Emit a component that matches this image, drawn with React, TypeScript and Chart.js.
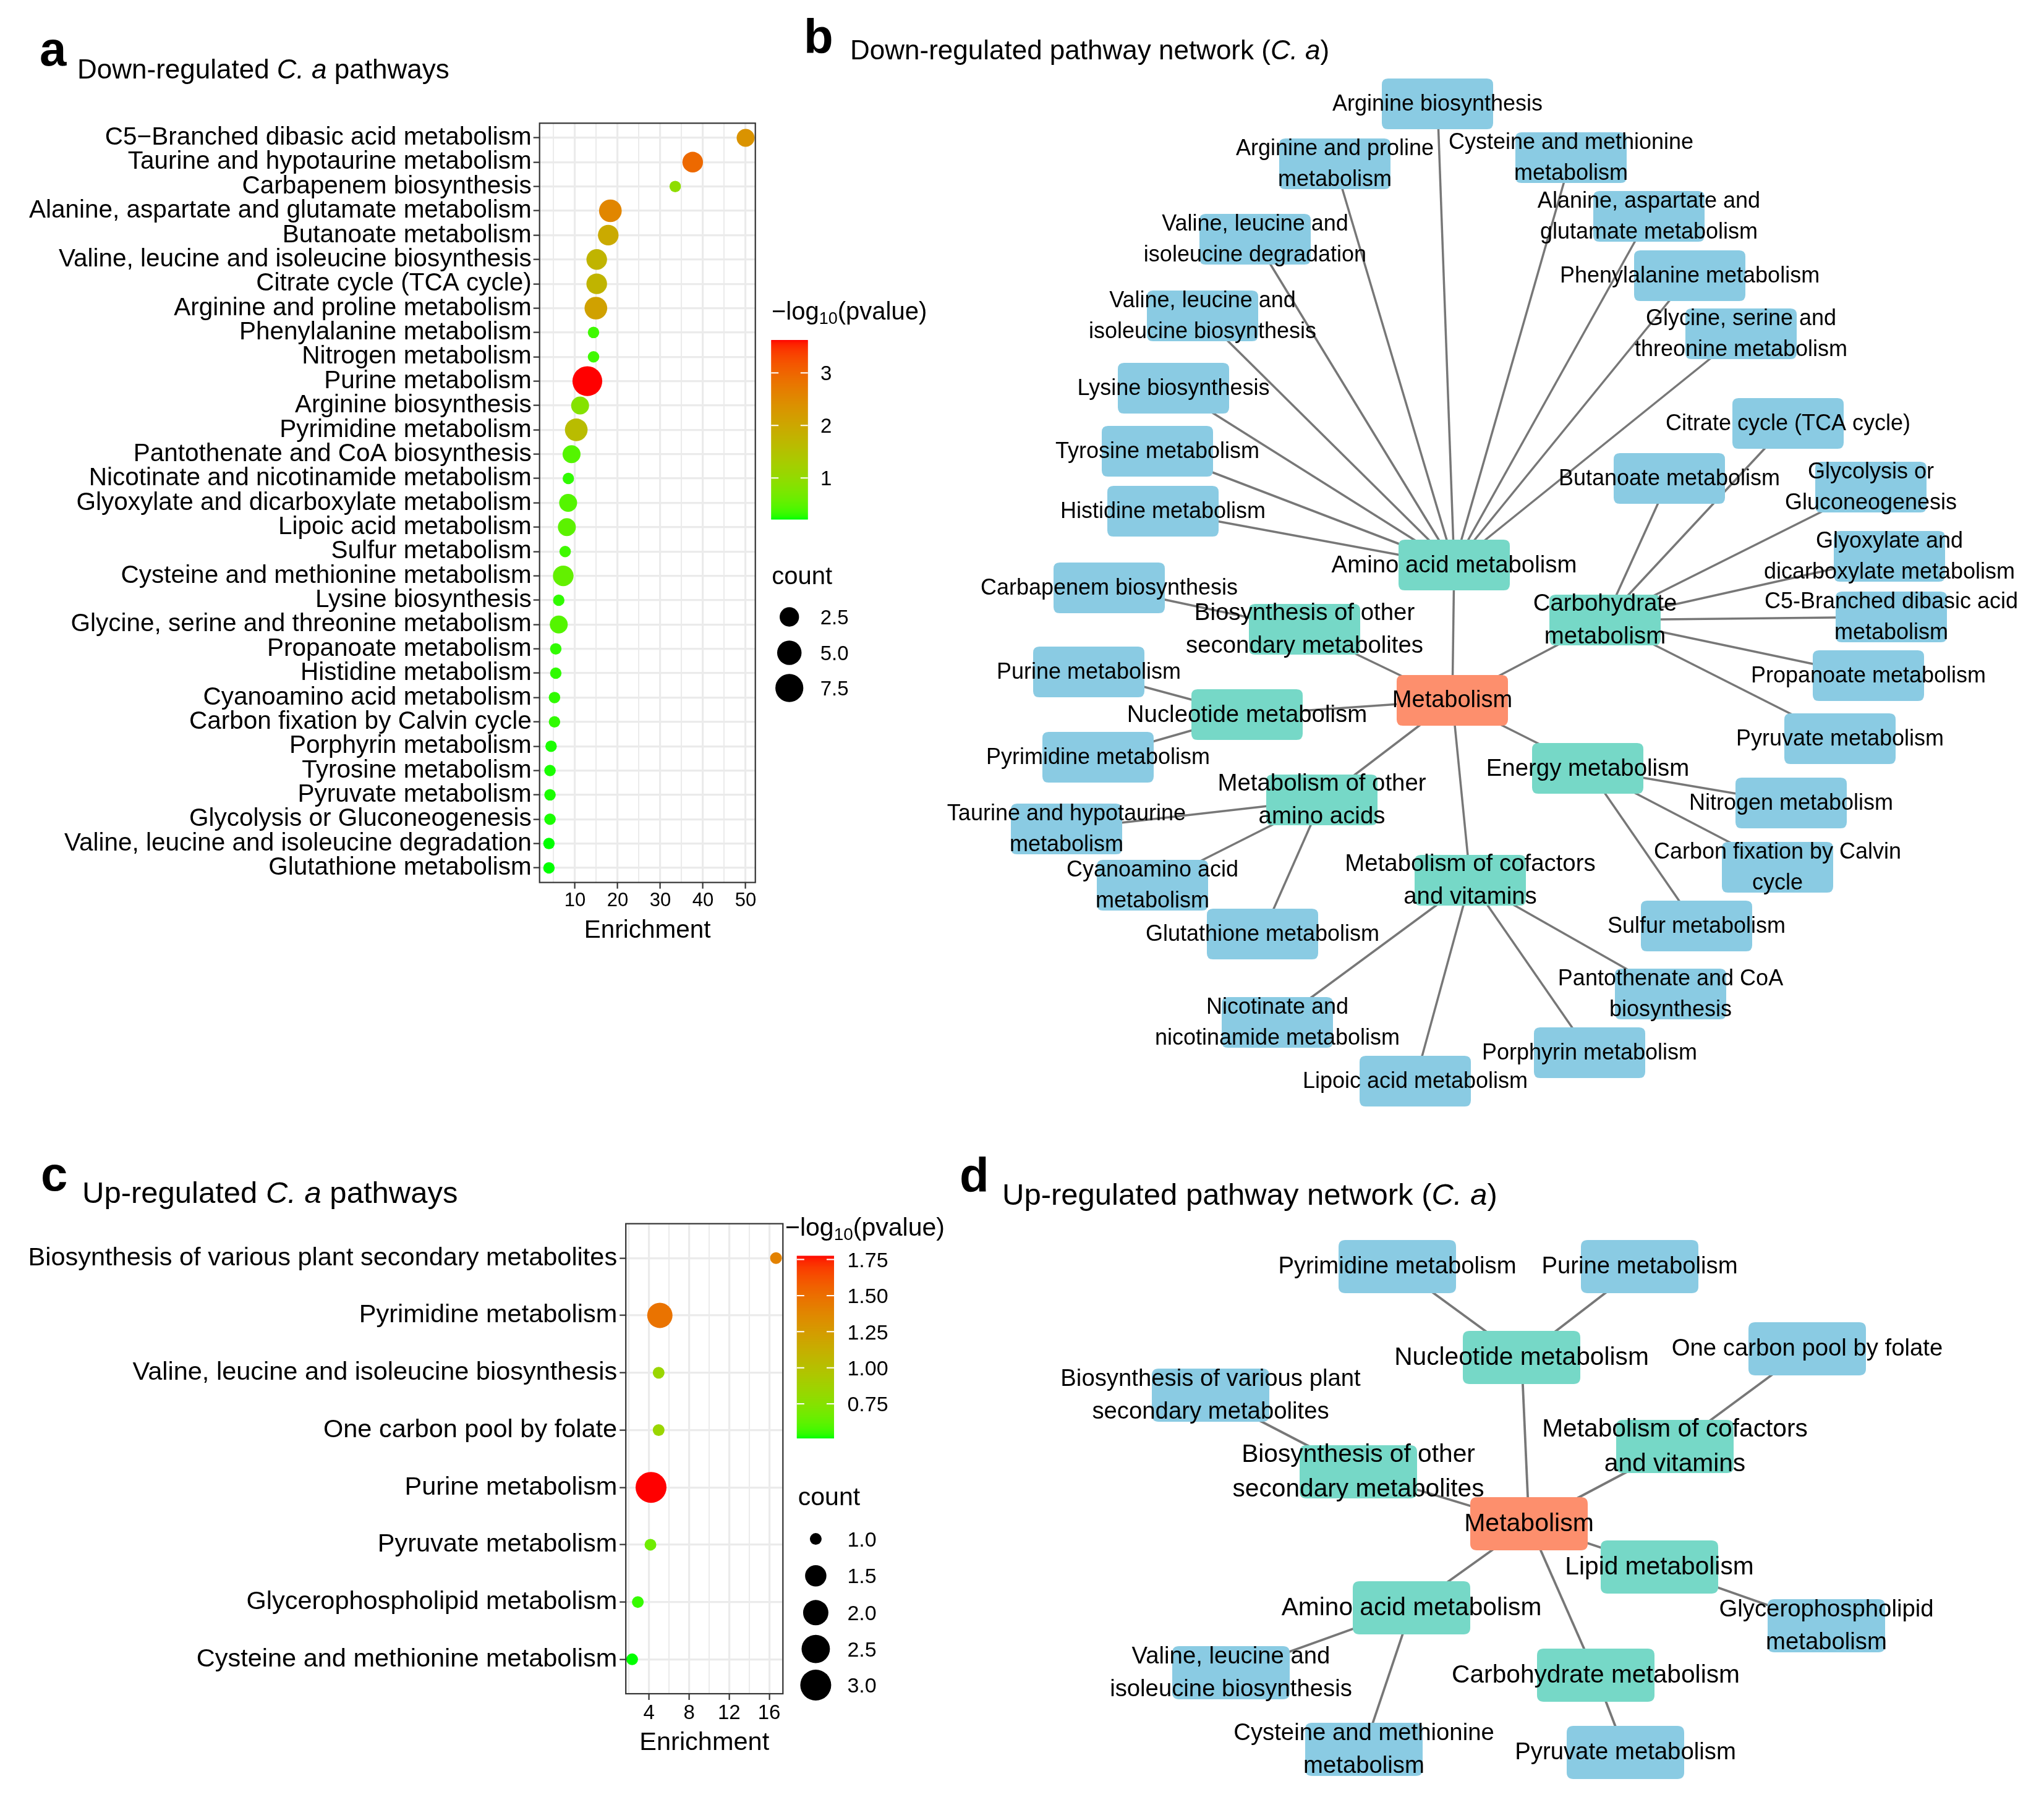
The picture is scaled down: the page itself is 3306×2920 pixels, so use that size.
import React, { useEffect, useRef } from "react";
import { Chart, registerables } from "chart.js";

Chart.register(...registerables);

const FONT = '"Liberation Sans", Arial, Helvetica, sans-serif';

// ---------------- Panel a : down-regulated pathways ----------------
const downPathways = [
  "C5\u2212Branched dibasic acid metabolism",
  "Taurine and hypotaurine metabolism",
  "Carbapenem biosynthesis",
  "Alanine, aspartate and glutamate metabolism",
  "Butanoate metabolism",
  "Valine, leucine and isoleucine biosynthesis",
  "Citrate cycle (TCA cycle)",
  "Arginine and proline metabolism",
  "Phenylalanine metabolism",
  "Nitrogen metabolism",
  "Purine metabolism",
  "Arginine biosynthesis",
  "Pyrimidine metabolism",
  "Pantothenate and CoA biosynthesis",
  "Nicotinate and nicotinamide metabolism",
  "Glyoxylate and dicarboxylate metabolism",
  "Lipoic acid metabolism",
  "Sulfur metabolism",
  "Cysteine and methionine metabolism",
  "Lysine biosynthesis",
  "Glycine, serine and threonine metabolism",
  "Propanoate metabolism",
  "Histidine metabolism",
  "Cyanoamino acid metabolism",
  "Carbon fixation by Calvin cycle",
  "Porphyrin metabolism",
  "Tyrosine metabolism",
  "Pyruvate metabolism",
  "Glycolysis or Gluconeogenesis",
  "Valine, leucine and isoleucine degradation",
  "Glutathione metabolism",
];
const downEnrichment = [
  50.0, 37.6, 33.5, 18.3, 17.8, 15.1, 15.1, 14.9, 14.35, 14.35, 12.9, 11.2, 10.3, 9.2, 8.45, 8.4,
  8.1, 7.7, 7.25, 6.2, 6.2, 5.5, 5.5, 5.2, 5.2, 4.4, 4.15, 4.15, 4.15, 3.9, 3.9,
];
const downCount = [2, 3, 1, 4, 3, 3, 3, 4, 1, 1, 9, 2, 4, 2, 1, 2, 2, 1, 3, 1, 2, 1, 1, 1, 1, 1, 1, 1, 1, 1, 1];
const downLogP = [
  2.35, 2.95, 0.95, 2.55, 1.95, 1.75, 1.75, 2.1, 0.35, 0.35, 3.627, 0.85, 1.6, 0.45, 0.3, 0.45, 0.5,
  0.35, 0.55, 0.3, 0.45, 0.3, 0.3, 0.3, 0.3, 0.25, 0.25, 0.25, 0.25, 0.224, 0.224,
];
const downEnrichMajor = [10, 20, 30, 40, 50];
const downEnrichMinor = [5, 15, 25, 35, 45];
const downColorTicks = [1, 2, 3];
const downCountTicks = [2.5, 5.0, 7.5];

// ---------------- Panel c : up-regulated pathways ----------------
const upPathways = [
  "Biosynthesis of various plant secondary metabolites",
  "Pyrimidine metabolism",
  "Valine, leucine and isoleucine biosynthesis",
  "One carbon pool by folate",
  "Purine metabolism",
  "Pyruvate metabolism",
  "Glycerophospholipid metabolism",
  "Cysteine and methionine metabolism",
];
const upEnrichment = [16.68, 5.08, 4.96, 4.96, 4.2, 4.14, 2.88, 2.31];
const upCount = [1, 2, 1, 1, 3, 1, 1, 1];
const upLogP = [1.4, 1.48, 0.84, 0.84, 1.776, 0.67, 0.55, 0.515];
const upEnrichMajor = [4, 8, 12, 16];
const upEnrichMinor = [2, 6, 10, 14];
const upColorTicks = [0.75, 1.0, 1.25, 1.5, 1.75];
const upCountTicks = [1.0, 1.5, 2.0, 2.5, 3.0];

// ---------------- Panel b : down-regulated network (layout units) ----------------
const downRoot = "Metabolism";
const downCategories = [
  "Amino acid metabolism",
  "Biosynthesis of other\nsecondary metabolites",
  "Carbohydrate\nmetabolism",
  "Nucleotide metabolism",
  "Metabolism of other\namino acids",
  "Energy metabolism",
  "Metabolism of cofactors\nand vitamins",
];
const downCategoryX = [0.03, -2.39, 2.47, -3.32, -2.11, 2.19, 0.29];
const downCategoryY = [2.19, 1.15, 1.3, -0.23, -1.61, -1.1, -2.91];
const downLeaves = [
  "Arginine biosynthesis",
  "Arginine and proline\nmetabolism",
  "Cysteine and methionine\nmetabolism",
  "Alanine, aspartate and\nglutamate metabolism",
  "Valine, leucine and\nisoleucine degradation",
  "Phenylalanine metabolism",
  "Valine, leucine and\nisoleucine biosynthesis",
  "Glycine, serine and\nthreonine metabolism",
  "Lysine biosynthesis",
  "Tyrosine metabolism",
  "Histidine metabolism",
  "Carbapenem biosynthesis",
  "Citrate cycle (TCA cycle)",
  "Butanoate metabolism",
  "Glycolysis or\nGluconeogenesis",
  "Glyoxylate and\ndicarboxylate metabolism",
  "C5-Branched dibasic acid\nmetabolism",
  "Propanoate metabolism",
  "Pyruvate metabolism",
  "Purine metabolism",
  "Pyrimidine metabolism",
  "Taurine and hypotaurine\nmetabolism",
  "Cyanoamino acid\nmetabolism",
  "Glutathione metabolism",
  "Nitrogen metabolism",
  "Carbon fixation by Calvin\ncycle",
  "Sulfur metabolism",
  "Pantothenate and CoA\nbiosynthesis",
  "Nicotinate and\nnicotinamide metabolism",
  "Porphyrin metabolism",
  "Lipoic acid metabolism",
];
const downLeafParent = [0, 0, 0, 0, 0, 0, 0, 0, 0, 0, 0, 1, 2, 2, 2, 2, 2, 2, 2, 3, 3, 4, 4, 4, 5, 5, 5, 6, 6, 6, 6];
const downLeafX = [
  -0.24, -1.9, 1.92, 3.18, -3.19, 3.84, -4.04, 4.67, -4.51, -4.77, -4.68, -5.55, 5.43, 3.51, 6.77, 7.07,
  7.1, 6.73, 6.27, -5.88, -5.73, -6.24, -4.85, -3.07, 5.48, 5.26, 3.95, 3.53, -2.83, 2.22, -0.6,
];
const downLeafY = [
  9.65, 8.68, 8.78, 7.83, 7.46, 6.87, 6.22, 5.93, 5.05, 4.03, 3.06, 1.82, 4.48, 3.59, 3.45, 2.33, 1.35,
  0.4, -0.62, 0.46, -0.92, -2.08, -2.99, -3.78, -1.66, -2.7, -3.65, -4.75, -5.21, -5.7, -6.16,
];

// ---------------- Panel d : up-regulated network (layout units) ----------------
const upRoot = "Metabolism";
const upCategories = [
  "Nucleotide metabolism",
  "Metabolism of cofactors\nand vitamins",
  "Biosynthesis of other\nsecondary metabolites",
  "Lipid metabolism",
  "Amino acid metabolism",
  "Carbohydrate metabolism",
];
const upCategoryX = [-0.12, 2.36, -2.76, 2.11, -1.9, 1.08];
const upCategoryY = [2.69, 1.25, 0.84, -0.7, -1.36, -2.45];
const upLeaves = [
  "Pyrimidine metabolism",
  "Purine metabolism",
  "One carbon pool by folate",
  "Biosynthesis of various plant\nsecondary metabolites",
  "Glycerophospholipid\nmetabolism",
  "Valine, leucine and\nisoleucine biosynthesis",
  "Cysteine and methionine\nmetabolism",
  "Pyruvate metabolism",
];
const upLeafParent = [0, 0, 1, 2, 3, 4, 4, 5];
const upLeafX = [-2.13, 1.79, 4.5, -5.15, 4.81, -4.82, -2.67, 1.56];
const upLeafY = [4.16, 4.16, 2.83, 2.08, -1.65, -2.41, -3.65, -3.7];

// ---------------- colour helpers (Lab interpolation like ggplot2) ----------------
function toLin(c: number) {
  c /= 255;
  return c <= 0.04045 ? c / 12.92 : Math.pow((c + 0.055) / 1.055, 2.4);
}
function rgb2lab(r: number, g: number, b: number) {
  const R = toLin(r), G = toLin(g), B = toLin(b);
  const X = (0.4124564 * R + 0.3575761 * G + 0.1804375 * B) / 0.95047;
  const Y = 0.2126729 * R + 0.7151522 * G + 0.072175 * B;
  const Z = (0.0193339 * R + 0.119192 * G + 0.9503041 * B) / 1.08883;
  const f = (t: number) => (t > 0.008856 ? Math.cbrt(t) : 7.787 * t + 16 / 116);
  return [116 * f(Y) - 16, 500 * (f(X) - f(Y)), 200 * (f(Y) - f(Z))];
}
function lab2rgb(L: number, a: number, b: number) {
  const fy = (L + 16) / 116, fx = a / 500 + fy, fz = fy - b / 200;
  const inv = (t: number) => (t * t * t > 0.008856 ? t * t * t : (t - 16 / 116) / 7.787);
  const X = 0.95047 * inv(fx), Y = inv(fy), Z = 1.08883 * inv(fz);
  const lr = 3.2404542 * X - 1.5371385 * Y - 0.4985314 * Z;
  const lg = -0.969266 * X + 1.8760108 * Y + 0.041556 * Z;
  const lb = 0.0556434 * X - 0.2040259 * Y + 1.0572252 * Z;
  const g = (c: number) => {
    const v = c <= 0.0031308 ? 12.92 * c : 1.055 * Math.pow(c, 1 / 2.4) - 0.055;
    return Math.round(Math.max(0, Math.min(1, v)) * 255);
  };
  return `rgb(${g(lr)},${g(lg)},${g(lb)})`;
}
const LOW_LAB = rgb2lab(0, 255, 0);
const HIGH_LAB = rgb2lab(255, 0, 0);
function gradient(v: number, lo: number, hi: number) {
  const t = Math.max(0, Math.min(1, (v - lo) / (hi - lo)));
  return lab2rgb(
    LOW_LAB[0] + t * (HIGH_LAB[0] - LOW_LAB[0]),
    LOW_LAB[1] + t * (HIGH_LAB[1] - LOW_LAB[1]),
    LOW_LAB[2] + t * (HIGH_LAB[2] - LOW_LAB[2])
  );
}

function drawParts(ctx: CanvasRenderingContext2D, x: number, y: number, parts: [string, boolean][], size: number) {
  let cx = x;
  ctx.textAlign = "left";
  ctx.textBaseline = "alphabetic";
  for (const [t, it] of parts) {
    ctx.font = `${it ? "italic " : ""}${size}px ${FONT}`;
    ctx.fillText(t, cx, y);
    cx += ctx.measureText(t).width;
  }
}

type Header = {
  letter: string; lx: number; lbase: number; lfont: number;
  parts: [string, boolean][]; tx: number; tbase: number; tfont: number;
};
function drawHeader(ctx: CanvasRenderingContext2D, h: Header) {
  ctx.save();
  ctx.fillStyle = "#000";
  ctx.textAlign = "left";
  ctx.textBaseline = "alphabetic";
  ctx.font = `bold ${h.lfont}px ${FONT}`;
  ctx.fillText(h.letter, h.lx, h.lbase);
  drawParts(ctx, h.tx, h.tbase, h.parts, h.tfont);
  ctx.restore();
}

// ---------------- dot plot ----------------
type DotSpec = {
  cats: string[]; enrich: number[]; count: number[]; logp: number[];
  xMin: number; xMax: number; majors: number[]; minors: number[];
  dMin: number; dMax: number;
  colorTicks: number[]; colorFmt: (v: number) => string;
  countTicks: number[];
  W: number; H: number; area: { l: number; t: number; r: number; b: number };
  yFont: number; xFont: number; xPad: number; yPad: number;
  axisTitleFont: number; axisTitleBase: number;
  cb: { titleX: number; titleBase: number; titleFont: number; subFont: number; x: number; y: number; w: number; h: number; labelX: number; labelFont: number };
  cl: { titleX: number; titleBase: number; titleFont: number; cx: number; cy: number[]; labelX: number; labelFont: number };
  header: Header;
};

function makeDotChart(canvas: HTMLCanvasElement, s: DotSpec) {
  const lo = Math.min(...s.logp), hi = Math.max(...s.logp);
  const cMin = Math.min(...s.count), cMax = Math.max(...s.count);
  const diam = (c: number) => s.dMin + (s.dMax - s.dMin) * Math.sqrt(Math.max(0, (c - cMin) / (cMax - cMin)));
  const n = s.cats.length;
  const majorSet = new Set(s.majors);
  const xTicks = [...s.minors, ...s.majors].sort((a, b) => a - b);
  const GRID = "#EBEBEB";
  const DARK = "#333333";

  const plugin = {
    id: "dotDecor",
    afterDraw(chart: any) {
      const ctx: CanvasRenderingContext2D = chart.ctx;
      const a = chart.chartArea;
      ctx.save();
      ctx.strokeStyle = DARK;
      ctx.lineWidth = 2.2;
      ctx.strokeRect(a.left, a.top, a.right - a.left, a.bottom - a.top);
      ctx.fillStyle = "#000";
      ctx.font = `${s.axisTitleFont}px ${FONT}`;
      ctx.textAlign = "center";
      ctx.textBaseline = "alphabetic";
      ctx.fillText("Enrichment", (a.left + a.right) / 2, s.axisTitleBase);
      const cb = s.cb;
      drawParts(ctx, cb.titleX, cb.titleBase, [["\u2212log", false]], cb.titleFont);
      ctx.font = `${cb.titleFont}px ${FONT}`;
      let tx = cb.titleX + ctx.measureText("\u2212log").width;
      ctx.font = `${cb.subFont}px ${FONT}`;
      ctx.fillText("10", tx, cb.titleBase + cb.titleFont * 0.17);
      tx += ctx.measureText("10").width;
      ctx.font = `${cb.titleFont}px ${FONT}`;
      ctx.fillText("(pvalue)", tx, cb.titleBase);
      for (let i = 0; i < cb.h; i++) {
        const v = hi - ((i + 0.5) / cb.h) * (hi - lo);
        ctx.fillStyle = gradient(v, lo, hi);
        ctx.fillRect(cb.x, cb.y + i, cb.w, 1.5);
      }
      ctx.strokeStyle = "#fff";
      ctx.lineWidth = 2;
      ctx.fillStyle = "#000";
      ctx.font = `${cb.labelFont}px ${FONT}`;
      ctx.textAlign = "left";
      for (const t of s.colorTicks) {
        const py = cb.y + ((hi - t) / (hi - lo)) * cb.h;
        ctx.beginPath();
        ctx.moveTo(cb.x, py);
        ctx.lineTo(cb.x + cb.w / 5, py);
        ctx.moveTo(cb.x + cb.w - cb.w / 5, py);
        ctx.lineTo(cb.x + cb.w, py);
        ctx.stroke();
        ctx.fillText(s.colorFmt(t), cb.labelX, py + cb.labelFont * 0.358);
      }
      const cl = s.cl;
      ctx.font = `${cl.titleFont}px ${FONT}`;
      ctx.fillText("count", cl.titleX, cl.titleBase);
      ctx.font = `${cl.labelFont}px ${FONT}`;
      s.countTicks.forEach((c, i) => {
        ctx.beginPath();
        ctx.arc(cl.cx, cl.cy[i], diam(c) / 2, 0, Math.PI * 2);
        ctx.fillStyle = "#000";
        ctx.fill();
        ctx.fillText(c.toFixed(1), cl.labelX, cl.cy[i] + cl.labelFont * 0.358);
      });
      drawHeader(ctx, s.header);
      ctx.restore();
    },
  };

  return new Chart(canvas, {
    type: "scatter",
    data: {
      datasets: [
        {
          data: s.enrich.map((x, i) => ({ x, y: i })),
          pointRadius: (c: any) => diam(s.count[c.dataIndex]) / 2,
          pointHoverRadius: (c: any) => diam(s.count[c.dataIndex]) / 2,
          pointBackgroundColor: (c: any) => gradient(s.logp[c.dataIndex], lo, hi),
          pointBorderWidth: 0,
        } as any,
      ],
    },
    options: {
      responsive: false,
      animation: false,
      devicePixelRatio: 1,
      events: [],
      layout: { padding: { left: 0, top: s.area.t, right: s.W - s.area.r, bottom: 0 } },
      plugins: { legend: { display: false }, tooltip: { enabled: false } },
      scales: {
        x: {
          type: "linear",
          min: s.xMin,
          max: s.xMax,
          afterBuildTicks: (sc: any) => {
            sc.ticks = xTicks.map((v) => ({ value: v }));
          },
          afterFit: (sc: any) => {
            sc.height = s.H - s.area.b;
          },
          border: { display: false },
          grid: {
            color: GRID,
            lineWidth: (c: any) => (c.tick && majorSet.has(c.tick.value) ? 3.2 : 2),
            tickColor: (c: any) => (c.tick && majorSet.has(c.tick.value) ? DARK : "rgba(0,0,0,0)"),
            tickWidth: 2.2,
            tickLength: 10,
          },
          ticks: {
            autoSkip: false,
            maxRotation: 0,
            padding: s.xPad,
            color: "#000",
            font: { family: FONT, size: s.xFont },
            callback: (v: any) => (majorSet.has(Number(v)) ? String(v) : ""),
          },
        },
        y: {
          type: "linear",
          reverse: true,
          min: -0.6,
          max: n - 0.4,
          afterBuildTicks: (sc: any) => {
            sc.ticks = s.cats.map((_, i) => ({ value: i }));
          },
          afterFit: (sc: any) => {
            sc.width = s.area.l;
          },
          border: { display: false },
          grid: { color: GRID, lineWidth: 3.2, tickColor: DARK, tickWidth: 2.2, tickLength: 10 },
          ticks: {
            autoSkip: false,
            padding: s.yPad,
            color: "#000",
            font: { family: FONT, size: s.yFont },
            callback: (v: any) => s.cats[Number(v)] ?? "",
          },
        },
      },
    } as any,
    plugins: [plugin],
  });
}

// ---------------- network ----------------
type NetSpec = {
  root: string; cats: string[]; catX: number[]; catY: number[];
  leaves: string[]; leafParent: number[]; leafX: number[]; leafY: number[];
  view: { xMin: number; xMax: number; yMin: number; yMax: number };
  boxW: number; boxH: number; boxR: number;
  leafFont: number; catFont: number; rootFont: number; lineH: number; edgeW: number;
  header: Header;
};

const ROOT_FILL = "#FD8F6D";
const CAT_FILL = "#76D8C7";
const LEAF_FILL = "#8ACBE3";
const EDGE = "#777777";

function makeNetChart(canvas: HTMLCanvasElement, s: NetSpec) {
  const nodes = [
    { label: s.root, kind: 0, x: 0, y: 0 },
    ...s.cats.map((l, i) => ({ label: l, kind: 1, x: s.catX[i], y: s.catY[i] })),
    ...s.leaves.map((l, i) => ({ label: l, kind: 2, x: s.leafX[i], y: s.leafY[i] })),
  ];
  const edges: [number, number][] = [];
  s.cats.forEach((_, i) => edges.push([0, 1 + i]));
  s.leaves.forEach((_, i) => edges.push([1 + s.leafParent[i], 1 + s.cats.length + i]));
  const edgeSets = edges.map(([p, c]) => ({
    type: "line",
    data: [
      { x: nodes[p].x, y: nodes[p].y },
      { x: nodes[c].x, y: nodes[c].y },
    ],
    showLine: true,
    borderColor: EDGE,
    borderWidth: s.edgeW,
    pointRadius: 0,
    fill: false,
    tension: 0,
  }));
  const nodeIndex = edgeSets.length;

  const plugin = {
    id: "netDecor",
    afterDatasetsDraw(chart: any) {
      const ctx: CanvasRenderingContext2D = chart.ctx;
      const meta = chart.getDatasetMeta(nodeIndex);
      ctx.save();
      nodes.forEach((nd, i) => {
        const el = meta.data[i];
        const x = el.x - s.boxW / 2, y = el.y - s.boxH / 2, w = s.boxW, h = s.boxH, r = s.boxR;
        ctx.beginPath();
        ctx.moveTo(x + r, y);
        ctx.lineTo(x + w - r, y);
        ctx.quadraticCurveTo(x + w, y, x + w, y + r);
        ctx.lineTo(x + w, y + h - r);
        ctx.quadraticCurveTo(x + w, y + h, x + w - r, y + h);
        ctx.lineTo(x + r, y + h);
        ctx.quadraticCurveTo(x, y + h, x, y + h - r);
        ctx.lineTo(x, y + r);
        ctx.quadraticCurveTo(x, y, x + r, y);
        ctx.closePath();
        ctx.fillStyle = nd.kind === 0 ? ROOT_FILL : nd.kind === 1 ? CAT_FILL : LEAF_FILL;
        ctx.fill();
      });
      ctx.fillStyle = "#000";
      ctx.textAlign = "center";
      ctx.textBaseline = "alphabetic";
      nodes.forEach((nd, i) => {
        const el = meta.data[i];
        const fs = nd.kind === 0 ? s.rootFont : nd.kind === 1 ? s.catFont : s.leafFont;
        ctx.font = `${fs}px ${FONT}`;
        const lines = nd.label.split("\n");
        const lh = fs * s.lineH;
        lines.forEach((ln, k) => {
          const cy = el.y + (k - (lines.length - 1) / 2) * lh;
          ctx.fillText(ln, el.x, cy + fs * 0.3);
        });
      });
      drawHeader(ctx, s.header);
      ctx.restore();
    },
  };

  return new Chart(canvas, {
    type: "scatter",
    data: {
      datasets: [
        ...(edgeSets as any[]),
        { data: nodes.map((nd) => ({ x: nd.x, y: nd.y })), pointRadius: 0, pointHoverRadius: 0 } as any,
      ],
    },
    options: {
      responsive: false,
      animation: false,
      devicePixelRatio: 1,
      events: [],
      layout: { padding: 0 },
      plugins: { legend: { display: false }, tooltip: { enabled: false } },
      scales: {
        x: { type: "linear", min: s.view.xMin, max: s.view.xMax, display: false },
        y: { type: "linear", min: s.view.yMin, max: s.view.yMax, display: false },
      },
    } as any,
    plugins: [plugin],
  });
}

// ---------------- specs (layout only) ----------------
const specA: DotSpec = {
  cats: downPathways, enrich: downEnrichment, count: downCount, logp: downLogP,
  xMin: 1.7, xMax: 52.28, majors: downEnrichMajor, minors: downEnrichMinor,
  dMin: 18.5, dMax: 48.2,
  colorTicks: downColorTicks, colorFmt: (v) => String(v), countTicks: downCountTicks,
  W: 1540, H: 1560, area: { l: 872.7, t: 199.3, r: 1221.7, b: 1427.6 },
  yFont: 40.5, xFont: 31, xPad: 1, yPad: 3, axisTitleFont: 40.5, axisTitleBase: 1517,
  cb: { titleX: 1248, titleBase: 517, titleFont: 40, subFont: 27, x: 1247.3, y: 550, w: 59.4, h: 289.3, labelX: 1327, labelFont: 33 },
  cl: { titleX: 1248.3, titleBase: 945, titleFont: 40, cx: 1276.7, cy: [998, 1056, 1113], labelX: 1326.7, labelFont: 33 },
  header: {
    letter: "a", lx: 64, lbase: 106, lfont: 78,
    parts: [["Down-regulated ", false], ["C. a", true], [" pathways", false]], tx: 125, tbase: 127, tfont: 44,
  },
};

const specC: DotSpec = {
  cats: upPathways, enrich: upEnrichment, count: upCount, logp: upLogP,
  xMin: 1.68, xMax: 17.37, majors: upEnrichMajor, minors: upEnrichMinor,
  dMin: 19, dMax: 50,
  colorTicks: upColorTicks, colorFmt: (v) => v.toFixed(2), countTicks: upCountTicks,
  W: 1540, H: 1120, area: { l: 1012.2, t: 179.6, r: 1266.3, b: 940 },
  yFont: 41.5, xFont: 33, xPad: 1.8, yPad: 4, axisTitleFont: 41.5, axisTitleBase: 1031,
  cb: { titleX: 1270, titleBase: 199, titleFont: 41, subFont: 28, x: 1288.8, y: 231.5, w: 60.2, h: 294.5, labelX: 1370.4, labelFont: 34 },
  cl: { titleX: 1290.8, titleBase: 635, titleFont: 41, cx: 1319.4, cy: [689.6, 749.2, 808.8, 867.6, 926], labelX: 1370.4, labelFont: 34 },
  header: {
    letter: "c", lx: 66, lbase: 126, lfont: 78,
    parts: [["Up-regulated ", false], ["C. a", true], [" pathways", false]], tx: 133, tbase: 146, tfont: 49,
  },
};

const specB: NetSpec = {
  root: downRoot, cats: downCategories, catX: downCategoryX, catY: downCategoryY,
  leaves: downLeaves, leafParent: downLeafParent, leafX: downLeafX, leafY: downLeafY,
  view: { xMin: -10.69, xMax: 9.57, yMin: -7.17, yMax: 11.33 },
  boxW: 180, boxH: 82, boxR: 10,
  leafFont: 36, catFont: 38.4, rootFont: 38, lineH: 1.38, edgeW: 3.5,
  header: {
    letter: "b", lx: 20, lbase: 86, lfont: 78,
    parts: [["Down-regulated pathway network (", false], ["C. a", true], [")", false]], tx: 95, tbase: 96, tfont: 44,
  },
};

const specD: NetSpec = {
  root: upRoot, cats: upCategories, catX: upCategoryX, catY: upCategoryY,
  leaves: upLeaves, leafParent: upLeafParent, leafX: upLeafX, leafY: upLeafY,
  view: { xMin: -9.73, xMax: 8.33, yMin: -4.55, yMax: 6.65 },
  boxW: 190, boxH: 86, boxR: 11,
  leafFont: 38.3, catFont: 40.7, rootFont: 41, lineH: 1.37, edgeW: 3.8,
  header: {
    letter: "d", lx: 52, lbase: 128, lfont: 78,
    parts: [["Up-regulated pathway network (", false], ["C. a", true], [")", false]], tx: 121, tbase: 149, tfont: 49,
  },
};

function ChartCanvas(props: { left: number; top: number; width: number; height: number; make: (c: HTMLCanvasElement) => Chart }) {
  const ref = useRef<HTMLCanvasElement>(null);
  useEffect(() => {
    const chart = props.make(ref.current as HTMLCanvasElement);
    return () => chart.destroy();
  }, []);
  return (
    <canvas
      ref={ref}
      width={props.width}
      height={props.height}
      style={{ position: "absolute", left: props.left, top: props.top, width: props.width, height: props.height }}
    />
  );
}

export default function App() {
  return (
    <div style={{ position: "absolute", left: 0, top: 0, width: 3306, height: 2920, background: "#fff", overflow: "hidden" }}>
      <ChartCanvas left={0} top={0} width={1540} height={1560} make={(c) => makeDotChart(c, specA)} />
      <ChartCanvas left={1280} top={0} width={2026} height={1850} make={(c) => makeNetChart(c, specB)} />
      <ChartCanvas left={0} top={1800} width={1540} height={1120} make={(c) => makeDotChart(c, specC)} />
      <ChartCanvas left={1500} top={1800} width={1806} height={1120} make={(c) => makeNetChart(c, specD)} />
    </div>
  );
}
